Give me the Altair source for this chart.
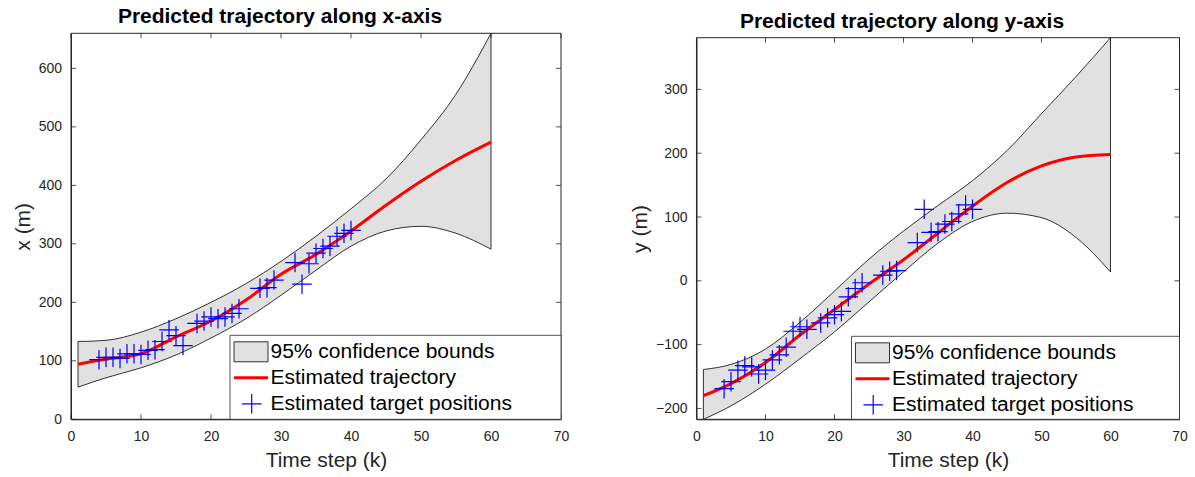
import altair as alt
import pandas as pd

# Smoothed state estimate and its 95% bounds, sampled along the time axis
t_curve = [1, 5, 10, 15, 20, 25, 30, 35, 40, 45, 50, 55, 60]
x_upper = [133, 135, 149, 172, 200, 232, 270, 313, 360, 411, 478, 556, 660]
x_est = [94, 103, 112, 141, 168, 204, 248, 282, 322, 366, 407, 443, 474]
x_lower = [55, 71, 88, 110, 139, 172, 212, 255, 296, 322, 330, 318, 291]

y_upper = [-139, -131, -107, -65, -16, 34, 78, 118, 157, 204, 262, 320, 381]
y_est = [-180, -161, -128, -85, -45, -5, 33, 75, 117, 154, 180, 194, 198]
y_lower = [-217, -196, -162, -122, -80, -33, 14, 59, 93, 106, 99, 68, 14]

# Estimated target positions (time step, x, y)
t_obs = [4, 5, 6, 7, 8, 9, 10, 11, 12, 13, 14, 15, 16, 18, 19, 20, 21, 22, 23, 24,
         27, 28, 29, 32, 33, 34, 35, 36, 37, 38, 39, 40]
x_obs = [102, 106, 106, 104, 112, 112, 111, 118, 119, 133, 153, 143, 126, 164, 168, 175,
         172, 175, 181, 189, 224, 225, 238, 268, 231, 266, 284, 292, 296, 313, 318, 323]
y_obs = [-169, -158, -140, -133, -135, -146, -140, -124, -116, -104, -79, -72, -76, -66,
         -58, -53, -48, -25, -12, -3, 9, 15, 16, 60, 112, 76, 77, 89, 93, 105, 119, 112]

time_ticks = [0, 10, 20, 30, 40, 50, 60, 70]
x_ticks = [0, 100, 200, 300, 400, 500, 600]
y_ticks = [-200, -100, 0, 100, 200, 300]

legend_labels = ["95% confidence bounds", "Estimated trajectory", "Estimated target positions"]

FONT = "Liberation Sans"
AX = "#262626"
BAND = "#e1e1e1"
PLUS = "M-1,0L1,0M0,-1L0,1"
TICK_LEN = 5


def panel(title, ytitle, est, lower, upper, obs, yticks, ydomain, width, height,
          top_inset, legend_w, legend_h, title_offset):
    curve = pd.DataFrame({"t": t_curve, "est": est, "lower": lower, "upper": upper})
    pts = pd.DataFrame({"t": t_obs, "v": obs})
    xt = pd.DataFrame({"t": time_ticks})
    yt = pd.DataFrame({"v": yticks})

    xs = alt.Scale(domain=[0, 70], nice=False, zero=False)
    # the axes box starts top_inset pixels below the top of the view
    ys = alt.Scale(domain=ydomain, nice=False, zero=False, range=[height, top_inset])
    xax = alt.Axis(values=time_ticks, ticks=False, grid=False, labelPadding=10,
                   labelFlush=False, title="Time step (k)", titleX=width / 2 + 10,
                   titlePadding=6)
    yax = alt.Axis(values=yticks, ticks=False, grid=False, labelPadding=9.5,
                   labelFlush=False, title=ytitle, titlePadding=5)

    def X(field):
        return alt.X(field, type="quantitative", scale=xs, axis=xax)

    def Y(field):
        return alt.Y(field, type="quantitative", scale=ys, axis=yax)

    band = alt.Chart(curve).mark_area(
        interpolate="monotone", fill=BAND, stroke="black", strokeWidth=0.8
    ).encode(x=X("t"), y=Y("lower"), y2="upper")

    line = alt.Chart(curve).mark_line(
        interpolate="monotone", color="#ff0000", strokeWidth=3
    ).encode(x=X("t"), y=Y("est"))

    marks = alt.Chart(pts).mark_point(
        shape=PLUS, size=380, filled=False, color="#0000ff", strokeWidth=1.2, opacity=1
    ).encode(x=X("t"), y=Y("v"))

    one = pd.DataFrame({"k": [0]})
    frame = alt.Chart(one).mark_rect(filled=False, stroke=AX, strokeWidth=1).encode(
        x=alt.value(0), x2=alt.value(width), y=alt.value(top_inset), y2=alt.value(height))

    # inward-pointing ticks on all four sides
    tick_style = dict(color=AX, strokeWidth=0.8)
    bottom_ticks = alt.Chart(xt).mark_rule(**tick_style).encode(
        x=X("t"), y=alt.value(height), y2=alt.value(height - TICK_LEN))
    top_ticks = alt.Chart(xt).mark_rule(**tick_style).encode(
        x=X("t"), y=alt.value(top_inset), y2=alt.value(top_inset + TICK_LEN))
    left_ticks = alt.Chart(yt).mark_rule(**tick_style).encode(
        y=Y("v"), x=alt.value(0), x2=alt.value(TICK_LEN))
    right_ticks = alt.Chart(yt).mark_rule(**tick_style).encode(
        y=Y("v"), x=alt.value(width), x2=alt.value(width - TICK_LEN))

    # legend box in the lower-right corner of the axes
    L = width - legend_w
    T = height - legend_h
    box = alt.Chart(one).mark_rect(fill="white", stroke=AX, strokeWidth=0.8).encode(
        x=alt.value(L), x2=alt.value(width), y=alt.value(T), y2=alt.value(height))
    swatch = alt.Chart(one).mark_rect(fill=BAND, stroke="black", strokeWidth=0.8).encode(
        x=alt.value(L + 4), x2=alt.value(L + 38), y=alt.value(T + 6.5), y2=alt.value(T + 26.5))
    red = alt.Chart(one).mark_rule(color="#ff0000", strokeWidth=3).encode(
        x=alt.value(L + 4), x2=alt.value(L + 38), y=alt.value(T + 42.5))
    plus = alt.Chart(one).mark_point(
        shape=PLUS, size=380, filled=False, color="#0000ff", strokeWidth=1.2, opacity=1
    ).encode(x=alt.value(L + 21.7), y=alt.value(T + 68.5))
    labels = alt.Chart(pd.DataFrame({"label": legend_labels, "row": [0, 1, 2]})).transform_calculate(
        ypix=f"{T + 23} + datum.row * 26"
    ).mark_text(align="left", baseline="alphabetic", fontSize=21, font=FONT, color="black").encode(
        x=alt.value(L + 40.5), y=alt.Y("ypix:Q", scale=None), text="label:N")

    return alt.layer(
        band, line, marks, frame, bottom_ticks, top_ticks, left_ticks, right_ticks,
        box, swatch, red, plus, labels
    ).properties(
        width=width, height=height,
        title=alt.TitleParams(text=title, fontSize=21, fontWeight="bold", color="black",
                              font=FONT, anchor="middle", dx=-36, offset=title_offset,
                              baseline="top"),
    )


left = panel("Predicted trajectory along x-axis", "x (m)", x_est, x_lower, x_upper, x_obs,
             x_ticks, [0, max(x_upper)], 490, 386, 0, 331, 84, 4.8)
right = panel("Predicted trajectory along y-axis", "y (m)", y_est, y_lower, y_upper, y_obs,
              y_ticks, [min(y_lower), max(y_upper)], 483, 386, 4.4, 328, 83, 0.8)

chart = alt.hconcat(left, right, spacing=58.5).properties(
    padding={"left": 11, "top": 5.3, "right": 0, "bottom": 0}
).configure(font=FONT).configure_view(
    stroke="transparent"
).configure_axis(
    domainColor=AX, domainWidth=1, labelColor=AX, labelFontSize=14, labelFont=FONT,
    titleColor=AX, titleFontSize=21, titleFontWeight="normal", titleFont=FONT
)

chart.save("out.html", embed_options={"renderer": "svg", "actions": False})
